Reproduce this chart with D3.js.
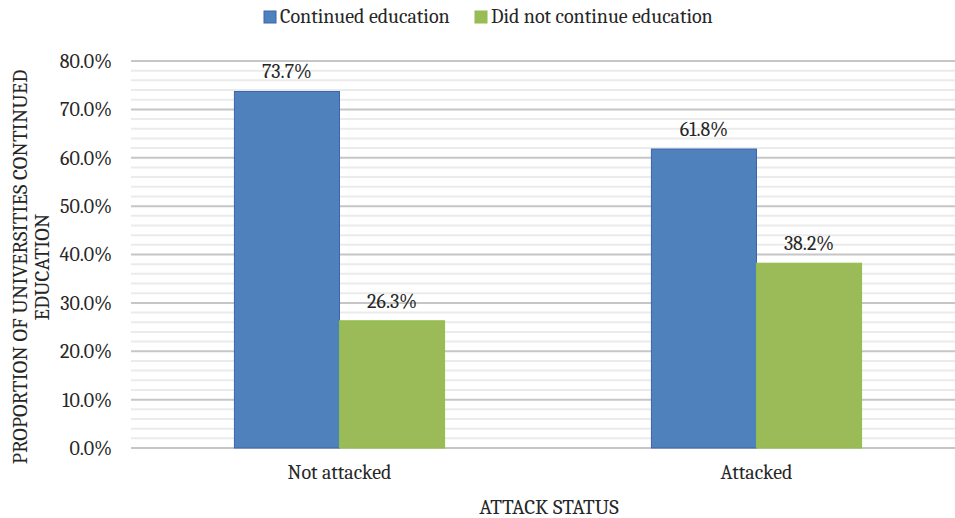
<!DOCTYPE html>
<html>
<head>
<meta charset="utf-8">
<script src="https://cdn.jsdelivr.net/npm/d3@7"></script>
<style>
  body { margin: 0; background: #fff; }
  text { font-family: Cambria, "Liberation Serif", serif; fill: #262626; }
</style>
</head>
<body>
<div id="chart"></div>
<script>
// chart data
var categories = ["Not attacked", "Attacked"];
var seriesNames = ["Continued education", "Did not continue education"];
var continued = [73.7, 61.8];
var notContinued = [26.3, 38.2];
var yTicks = [0, 10, 20, 30, 40, 50, 60, 70, 80];

var svgWidth = 955;
var svgHeight = 518;

var margin = { top: 61, right: -10, bottom: 70, left: 131 };
var chartWidth = svgWidth - margin.left - margin.right;
var chartHeight = svgHeight - margin.top - margin.bottom;

var colors = ["#4f81bd", "#9bbb59"];
var strokes = ["#3c63b0", "#8fbf45"];

var svg = d3.select("#chart")
  .append("svg")
  .attr("width", svgWidth)
  .attr("height", svgHeight);

var chartGroup = svg.append("g")
  .attr("transform", `translate(${margin.left},${margin.top})`);

var yScale = d3.scaleLinear()
  .domain([0, 80])
  .range([chartHeight, 0]);

var xScale = d3.scaleBand()
  .domain(categories)
  .range([0, chartWidth])
  .paddingInner(0)
  .paddingOuter(0);

var xSub = d3.scaleBand()
  .domain(seriesNames)
  .range([xScale.bandwidth() * 0.248, xScale.bandwidth() * 0.752]);

// minor gridlines every 2%
var minorTicks = d3.range(0, 81, 2).filter(v => v % 10 !== 0);
chartGroup.append("g")
  .selectAll("line")
  .data(minorTicks)
  .enter()
  .append("line")
  .attr("x1", 0)
  .attr("x2", chartWidth)
  .attr("y1", d => yScale(d))
  .attr("y2", d => yScale(d))
  .attr("stroke", "#ebebeb")
  .attr("stroke-width", 2);

// major gridlines
chartGroup.append("g")
  .selectAll("line")
  .data(yTicks)
  .enter()
  .append("line")
  .attr("x1", 0)
  .attr("x2", chartWidth)
  .attr("y1", d => yScale(d))
  .attr("y2", d => yScale(d))
  .attr("stroke", "#c6c6c6")
  .attr("stroke-width", 2);

// y axis labels
var leftAxis = d3.axisLeft(yScale)
  .tickValues(yTicks)
  .tickSize(0)
  .tickPadding(19)
  .tickFormat(d => d.toFixed(1) + "%");

var yAxis = chartGroup.append("g").call(leftAxis);
yAxis.select(".domain").remove();
yAxis.selectAll("text")
  .style("font-size", "20px")
  .style("font-family", "Cambria, 'Liberation Serif', serif")
  .attr("fill", "#262626");

// bars
var rows = categories.map((c, i) => ({ cat: c, values: [continued[i], notContinued[i]] }));

var groups = chartGroup.selectAll(".cat")
  .data(rows)
  .enter()
  .append("g")
  .attr("transform", d => `translate(${xScale(d.cat)},0)`);

groups.selectAll("rect")
  .data(d => d.values.map((v, j) => ({ name: seriesNames[j], value: v, j: j })))
  .enter()
  .append("rect")
  .attr("x", d => xSub(d.name))
  .attr("width", xSub.bandwidth())
  .attr("y", d => yScale(d.value))
  .attr("height", d => chartHeight - yScale(d.value))
  .attr("fill", d => colors[d.j])
  .attr("stroke", d => strokes[d.j])
  .attr("stroke-width", 1);

groups.selectAll(".lbl")
  .data(d => d.values.map((v, j) => ({ name: seriesNames[j], value: v })))
  .enter()
  .append("text")
  .attr("x", d => xSub(d.name) + xSub.bandwidth() / 2)
  .attr("y", d => yScale(d.value) - 13)
  .attr("text-anchor", "middle")
  .style("font-size", "20px")
  .text(d => d.value.toFixed(1) + "%");

// x axis labels
var bottomAxis = d3.axisBottom(xScale).tickSize(0).tickPadding(17);
var xAxis = chartGroup.append("g")
  .attr("transform", `translate(0,${chartHeight})`)
  .call(bottomAxis);
xAxis.select(".domain").remove();
xAxis.selectAll("text")
  .style("font-size", "20px")
  .style("font-family", "Cambria, 'Liberation Serif', serif")
  .attr("fill", "#262626");

// axis titles
svg.append("text")
  .attr("x", 549)
  .attr("y", 514)
  .attr("text-anchor", "middle")
  .style("font-size", "21px")
  .text("ATTACK STATUS");

var yTitle = svg.append("text")
  .attr("transform", "translate(0,267) rotate(-90)")
  .attr("text-anchor", "middle")
  .style("font-size", "21px");
yTitle.append("tspan").attr("x", 0).attr("y", 27).text("PROPORTION OF UNIVERSITIES CONTINUED");
yTitle.append("tspan").attr("x", 0).attr("y", 49).text("EDUCATION");

// legend
var legendX = [264, 475];
var legend = svg.append("g");
seriesNames.forEach((name, i) => {
  legend.append("rect")
    .attr("x", legendX[i])
    .attr("y", 11)
    .attr("width", 12)
    .attr("height", 12)
    .attr("fill", colors[i])
    .attr("stroke", strokes[i]);
  legend.append("text")
    .attr("x", legendX[i] + 16)
    .attr("y", 23)
    .style("font-size", "20px")
    .text(name);
});
</script>
</body>
</html>
